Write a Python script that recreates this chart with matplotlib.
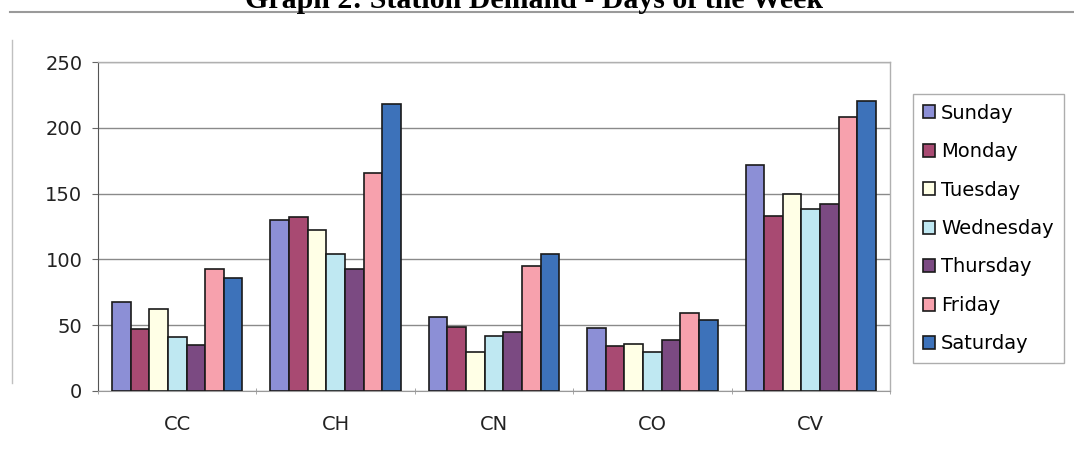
import matplotlib
matplotlib.use("Agg")
import matplotlib.pyplot as plt
from matplotlib.lines import Line2D
import numpy as np

stations = ["CC", "CH", "CN", "CO", "CV"]
days = ["Sunday", "Monday", "Tuesday", "Wednesday", "Thursday", "Friday", "Saturday"]
sunday = [68, 130, 56, 48, 172]
monday = [47, 132, 49, 34, 133]
tuesday = [62, 122, 30, 36, 150]
wednesday = [41, 104, 42, 30, 138]
thursday = [35, 93, 45, 39, 142]
friday = [93, 166, 95, 59, 208]
saturday = [86, 218, 104, 54, 220]
series = [sunday, monday, tuesday, wednesday, thursday, friday, saturday]
colors = ["#8C8FD6", "#A84A72", "#FFFFE6", "#BFE8F2", "#7B4A82", "#F7A1AD", "#3D72BA"]
yticks = [0, 50, 100, 150, 200, 250]
title = "Graph 2: Station Demand - Days of the Week"

plt.rcParams['font.family'] = ['DejaVu Sans']

W, H = 1074, 463
fig = plt.figure(figsize=(W / 100, H / 100), dpi=100)
ax = fig.add_axes([98 / W, 1 - 391 / H, (890 - 98) / W, (391 - 62) / H])

x = np.arange(len(stations))
w = 1 / 8.5
for j, (vals, c, d) in enumerate(zip(series, colors, days)):
    ax.bar(x + (j - 3) * w, vals, width=w, color=c, edgecolor="#1a1a1a",
           linewidth=1.2, label=d, zorder=3)

ax.set_xlim(-0.5, len(stations) - 0.5)
ax.set_ylim(0, 250)
ax.set_yticks(yticks)
ax.set_yticklabels([str(t) for t in yticks], fontsize=14, color="#222")
ax.yaxis.grid(True, color="#8a8a8a", linewidth=1, zorder=0)
ax.set_xticks(x)
ax.set_xticklabels(stations, fontsize=14, color="#222")
ax.tick_params(axis="x", which="major", length=0, pad=17)
ax.set_xticks(np.arange(len(stations) + 1) - 0.5, minor=True)
ax.tick_params(axis="x", which="minor", length=5, direction="inout", color="#999")
ax.tick_params(axis="y", length=4.3, color="#666", pad=7)
for s in ["top", "right"]:
    ax.spines[s].set_color("#b0b0b0")
    ax.spines[s].set_linewidth(1)
ax.spines["left"].set_color("#555")
ax.spines["bottom"].set_color("#999")

leg = fig.legend(loc="upper left", bbox_to_anchor=(913 / W, 1 - 94 / H),
                 fontsize=14, frameon=True, fancybox=False, edgecolor="#999",
                 handlelength=0.65, handleheight=0.65, handletextpad=0.3,
                 labelspacing=1.0, borderpad=0.5, borderaxespad=0)
leg.get_frame().set_linewidth(1)

fig.text(534 / W, 1 - 8 / H, title, ha="center", va="baseline",
         fontfamily="Liberation Serif", fontweight="bold", fontsize=21.5)
fig.add_artist(Line2D([10 / W, 1], [1 - 12 / H, 1 - 12 / H], color="#9a9a9a",
                      linewidth=1.5, transform=fig.transFigure))
fig.add_artist(Line2D([12 / W, 12 / W], [1 - 40 / H, 1 - 383 / H], color="#c0c0c0",
                      linewidth=1, transform=fig.transFigure))

fig.savefig("out.png", dpi=100)
